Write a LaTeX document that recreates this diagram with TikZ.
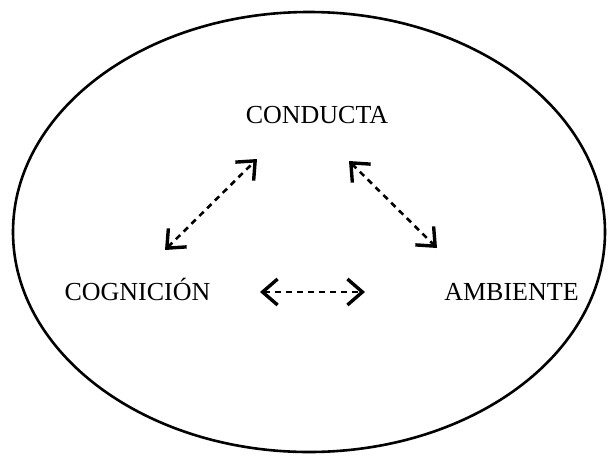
\documentclass[tikz,border=0pt]{standalone}
\usepackage{fontspec}
\setmainfont{Liberation Serif}
\usetikzlibrary{arrows.meta}

\tikzset{
    label text/.style={font=\fontsize{26}{30}\selectfont, inner sep=0pt, anchor=base},
    barb/.tip={Straight Barb[length=15pt,width=26pt,line width=3.4pt]},
    link/.style={dash pattern=on 6pt off 5pt, line width=2.6pt, barb-barb}
}

\begin{document}
\begin{tikzpicture}[x=1pt, y=-1pt]
    \useasboundingbox[fill=white] (0,0) rectangle (608,456);

    \draw[line width=2.6pt] (309,232) ellipse (296 and 220);

    \node[label text] (conducta) at (317,123) {CONDUCTA};
    \node[label text] (cognicion) at (137.5,300) {COGNICIÓN};
    \node[label text] (ambiente) at (511.5,300) {AMBIENTE};

    \coordinate (cog-top) at (165,250);
    \coordinate (con-left) at (257,159);
    \coordinate (con-right) at (349,161);
    \coordinate (amb-top) at (437,248);
    \coordinate (mid-left) at (260,292);
    \coordinate (mid-right) at (365,292);

    \draw[link] (cog-top) -- (con-left);
    \draw[link] (con-right) -- (amb-top);
    \draw[link] (mid-left) -- (mid-right);
\end{tikzpicture}
\end{document}
